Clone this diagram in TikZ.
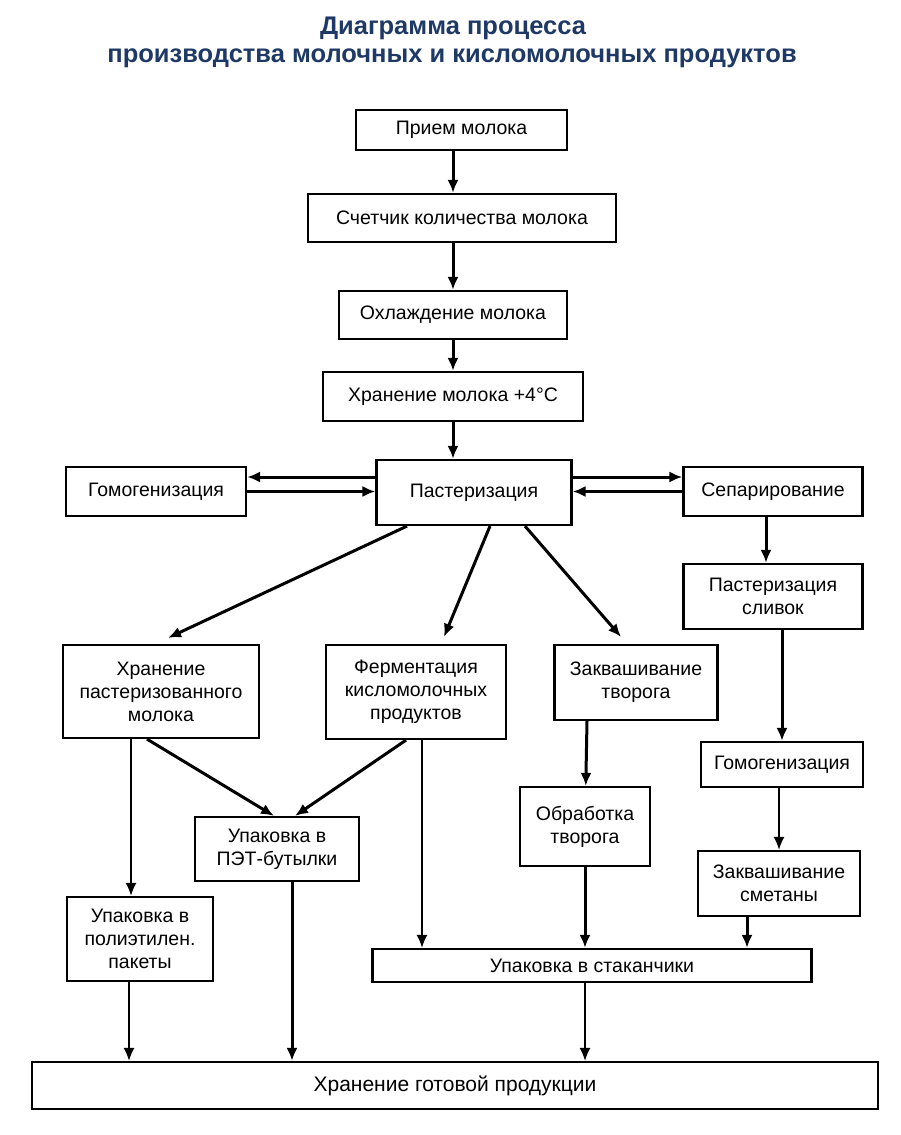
\documentclass[tikz,border=0pt]{standalone}
\usepackage{fontspec}
\setmainfont{Liberation Sans}
\usetikzlibrary{arrows.meta, positioning}
\definecolor{titleblue}{RGB}{30,57,101}

\begin{document}
\begin{tikzpicture}[
    % GLOBAL CFG
    x=1pt, y=-1pt,
    font=\fontsize{19.5}{23}\selectfont,
    >={Latex[length=13pt,width=11pt]},
    % Styles
    box/.style={% process steps
        rectangle,
        draw,
        line width=2.2pt,
        align=center,
        inner sep=2pt,
        },
    heading/.style={% title lines
        font=\fontsize{25.5}{30}\selectfont\bfseries,
        text=titleblue,
        },
    ArrowT/.style={% thick connectors
        ->,
        line width=3pt,
        },
    ArrowN/.style={% thin connectors
        ->,
        line width=1.7pt,
        }
    ]
    \useasboundingbox (0,0) rectangle (900,1135);

    % Title
    \node [heading] (title1) at (453,28) {Диаграмма процесса};
    \node [heading] (title2) at (452,58) {производства молочных и кисломолочных продуктов};

    % Main column
    \node [box, minimum width=211, minimum height=40] (priem) at (461.5,130) {Прием молока};
    \node [box, minimum width=308, minimum height=48] (schet) at (462,218) {Счетчик количества молока};
    \node [box, minimum width=228, minimum height=48] (ohl) at (453,315) {Охлаждение молока};
    \node [box, minimum width=260, minimum height=49] (hran) at (453,396.5) {Хранение молока +4°C};
    \node [box, minimum width=195, minimum height=65] (past) at (474,492.5) {Пастеризация};

    % Side boxes
    \node [box, minimum width=180, minimum height=49] (gomL) at (156,491.5) {Гомогенизация};
    \node [box, minimum width=179, minimum height=49] (sep) at (773,491.5) {Сепарирование};
    \node [box, minimum width=179, minimum height=65] (pastsl) at (773,596.5) {Пастеризация\\сливок};

    % Second row
    \node [box, minimum width=196, minimum height=93] (hrpast) at (161,691.5) {Хранение\\пастеризованного\\молока};
    \node [box, minimum width=180, minimum height=94] (ferm) at (416,692) {Ферментация\\кисломолочных\\продуктов};
    \node [box, minimum width=163, minimum height=75] (zakvtv) at (636,682.5) {Заквашивание\\творога};
    \node [box, minimum width=162, minimum height=45] (gomR) at (782,764.5) {Гомогенизация};

    % Packing
    \node [box, minimum width=164, minimum height=64] (pet) at (277,849) {Упаковка в\\ПЭТ-бутылки};
    \node [box, minimum width=130, minimum height=79] (obr) at (585,826.5) {Обработка\\творога};
    \node [box, minimum width=162, minimum height=65] (smet) at (779,883.5) {Заквашивание\\сметаны};
    \node [box, minimum width=146, minimum height=84] (poly) at (140,939) {Упаковка в\\полиэтилен.\\пакеты};
    \node [box, minimum width=439, minimum height=33] (stak) at (592,965.5) {Упаковка в стаканчики};
    \node [box, minimum width=846, minimum height=47, font=\fontsize{21}{24}\selectfont] (hrgot) at (455,1085.5) {Хранение готовой продукции};

    % Connectors down the main column
    \draw [ArrowT] (priem.south -| ohl) -- (schet.north -| ohl);
    \draw [ArrowT] (schet.south -| ohl) -- (ohl);
    \draw [ArrowT] (ohl) -- (hran);
    \draw [ArrowT] (hran) -- (past.north -| hran);

    % Back and forth
    \draw [ArrowT] ([yshift=15.5pt]past.west) -- ([yshift=15.5pt]past.west -| gomL.east);
    \draw [ArrowT] (gomL.east) -- (gomL.east -| past.west);
    \draw [ArrowT] ([yshift=15.5pt]past.east) -- ([yshift=15.5pt]past.east -| sep.west);
    \draw [ArrowT] (sep.west) -- (sep.west -| past.east);

    % From pasteurisation
    \draw [ArrowT] ([xshift=-67pt]past.south) -- ([xshift=7pt,yshift=6pt]hrpast.north);
    \draw [ArrowT] ([xshift=16pt]past.south) -- ([xshift=28pt,yshift=7pt]ferm.north);
    \draw [ArrowT] ([xshift=51pt]past.south) -- ([xshift=-15pt,yshift=7pt]zakvtv.north);

    % Cream line
    \draw [ArrowT] ([xshift=-7pt]sep.south) -- ([xshift=-7pt]sep.south |- pastsl.north);
    \draw [ArrowT] (pastsl.south -| gomR) -- (gomR);
    \draw [ArrowN] (gomR.south -| smet) -- (smet);

    % Second row to packing
    \draw [ArrowN] ([xshift=-30pt]hrpast.south) -- ([xshift=-30pt]hrpast.south |- poly.north);
    \draw [ArrowT] ([xshift=-14pt]hrpast.south) -- ([xshift=-3pt]pet.north);
    \draw [ArrowT] ([xshift=-10pt]ferm.south) -- ([xshift=18pt]pet.north);
    \draw [ArrowN] ([xshift=6pt]ferm.south) -- ([xshift=6pt]ferm.south |- stak.north);
    \draw [ArrowT] ([xshift=-49pt]zakvtv.south) -- (obr);
    \draw [ArrowT] (obr) -- (obr |- stak.north);
    \draw [ArrowT] ([xshift=-32pt]smet.south) -- ([xshift=-32pt]smet.south |- stak.north);

    % Into storage
    \draw [ArrowN] ([xshift=-11pt]poly.south) -- ([xshift=-11pt]poly.south |- hrgot.north);
    \draw [ArrowT] ([xshift=15pt]pet.south) -- ([xshift=15pt]pet.south |- hrgot.north);
    \draw [ArrowN] (stak.south -| obr) -- (obr |- hrgot.north);

\end{tikzpicture}
\end{document}
